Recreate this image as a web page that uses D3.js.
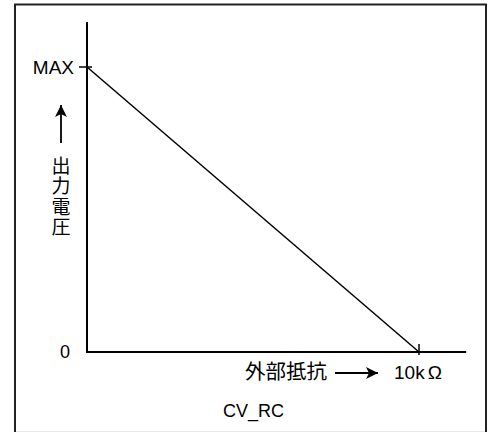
<!DOCTYPE html>
<html><head><meta charset="utf-8">
<script src="https://cdn.jsdelivr.net/npm/d3@7"></script>
<style>body{margin:0;background:#fff}svg{display:block}</style>
</head><body>
<script>
// data
const resistance = [0, 10];          // kΩ
const voltage = [1, 0];              // fraction of MAX
const yTickValues = [0, 1];
const yTickLabels = ["0", "MAX"];
const xTickValues = [10];
const xTickLabels = ["10k", "Ω"];
const yTitle = "出力電圧";
const xTitle = "外部抵抗";
const caption = "CV_RC";

const W = 491, H = 432;
const svg = d3.select("body").append("svg").attr("width", W).attr("height", H);
const latin = "'Liberation Sans', Arial, sans-serif";
const cjk = "'Noto Sans CJK JP', sans-serif";

// frame
svg.append("rect").attr("x", 15).attr("y", 4.5).attr("width", 471).attr("height", 460)
  .attr("fill", "none").attr("stroke", "#222").attr("stroke-width", 2);
svg.append("line").attr("x1", 16).attr("x2", 485).attr("y1", 431.5).attr("y2", 431.5)
  .attr("stroke", "#e8e8e8").attr("stroke-width", 1);

const x = d3.scaleLinear().domain([0, 10]).range([87, 419]);
const y = d3.scaleLinear().domain([0, 1]).range([352, 67]);

// axes
svg.append("line").attr("x1", x(0)).attr("x2", x(0)).attr("y1", y(0) + 1).attr("y2", y(1.158))
  .attr("stroke", "#000").attr("stroke-width", 2);
svg.append("line").attr("x1", x(0) - 1).attr("x2", x(11.42)).attr("y1", y(0)).attr("y2", y(0))
  .attr("stroke", "#000").attr("stroke-width", 2);

// ticks
svg.append("line").attr("x1", x(0) - 8).attr("x2", x(0) + 5).attr("y1", y(1)).attr("y2", y(1))
  .attr("stroke", "#000").attr("stroke-width", 1.5);
xTickValues.forEach(v => {
  svg.append("line").attr("x1", x(v)).attr("x2", x(v)).attr("y1", y(0) - 8).attr("y2", y(0) + 3)
    .attr("stroke", "#000").attr("stroke-width", 1.5);
});

// series line
const line = d3.line().x((d, i) => x(resistance[i])).y(d => y(d));
svg.append("path").datum(voltage).attr("d", line).attr("fill", "none")
  .attr("stroke", "#000").attr("stroke-width", 1.5);

// y tick labels
yTickValues.forEach((v, i) => {
  svg.append("text").attr("x", i === 1 ? 74 : 70).attr("y", y(v)).attr("dy", "0.36em")
    .attr("text-anchor", "end").attr("font-family", latin).attr("font-size", i === 1 ? 19 : 18)
    .attr("fill", "#000").text(yTickLabels[i]);
});
// x tick label
xTickValues.forEach(v => {
  const t = svg.append("text").attr("x", x(v) - 25).attr("y", 379)
    .attr("font-family", latin).attr("font-size", 19).attr("fill", "#000");
  t.append("tspan").text(xTickLabels[0]);
  t.append("tspan").attr("dx", 3).text(xTickLabels[1]);
});

// arrow marker
const defs = svg.append("defs");
defs.append("marker").attr("id", "ah").attr("viewBox", "0 0 10 10").attr("refX", 10).attr("refY", 5)
  .attr("markerWidth", 16).attr("markerHeight", 12).attr("markerUnits", "userSpaceOnUse")
  .attr("orient", "auto").append("path").attr("d", "M0,0 L10,5 L0,10 L2.5,5 Z").attr("fill", "#000");

// y title
svg.append("line").attr("x1", 61).attr("x2", 61).attr("y1", 143).attr("y2", 105)
  .attr("stroke", "#000").attr("stroke-width", 1.8).attr("marker-end", "url(#ah)");
svg.append("text").attr("x", 61).attr("y", 156)
  .attr("writing-mode", "vertical-rl").attr("text-orientation", "upright")
  .attr("letter-spacing", 1.5)
  .attr("font-family", cjk).attr("font-size", 19).attr("fill", "#000").text(yTitle);

// x title
svg.append("text").attr("x", 245).attr("y", 379).attr("font-family", cjk).attr("font-size", 20.5)
  .attr("fill", "#000").text(xTitle);
svg.append("line").attr("x1", 335).attr("x2", 378).attr("y1", 373).attr("y2", 373)
  .attr("stroke", "#000").attr("stroke-width", 1.8).attr("marker-end", "url(#ah)");

// caption
svg.append("text").attr("x", 223).attr("y", 417).attr("font-family", latin).attr("font-size", 18)
  .attr("fill", "#000").text(caption);
</script>
</body></html>
